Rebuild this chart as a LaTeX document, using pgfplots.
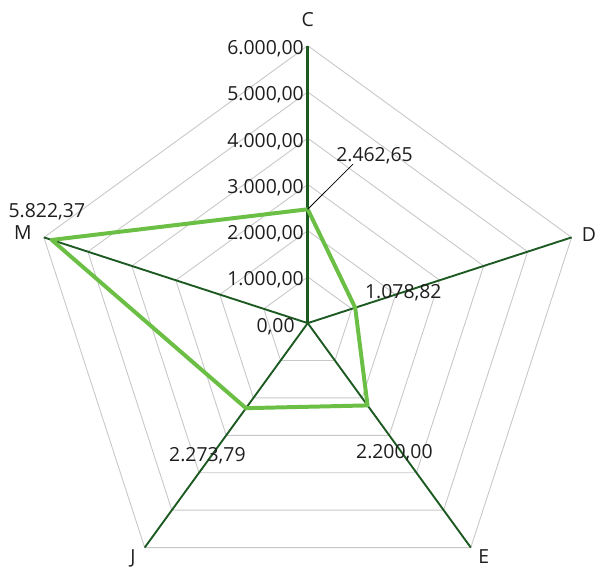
\documentclass[border=0pt]{standalone}
\usepackage{pgfplots}
\pgfplotsset{compat=1.18}
\usepackage{fontspec}
\setmainfont{Open Sans}
\definecolor{spoke}{HTML}{1D5A22}
\definecolor{series}{HTML}{6CBF45}
\definecolor{ring}{HTML}{C8C8C8}
\definecolor{txt}{HTML}{1E1E1E}
\begin{document}
\begin{tikzpicture}
\begin{axis}[
  scale only axis, width=596pt, height=566pt,
  xmin=-6656, xmax=6161, ymin=-5183, ymax=6989,
  hide axis, clip=false,
]
% polygon grid, one ring per 1000
\pgfplotsinvokeforeach{1000,2000,3000,4000,5000,6000}{
  \addplot[ring, line width=0.9pt, data cs=polar] coordinates
    {(90,#1) (18,#1) (306,#1) (234,#1) (162,#1) (90,#1)};
}
% spokes
\addplot[spoke, line width=1.9pt, data cs=polar] coordinates {(18,0) (18,6000)};
\addplot[spoke, line width=1.9pt, data cs=polar] coordinates {(306,0) (306,6000)};
\addplot[spoke, line width=1.9pt, data cs=polar] coordinates {(234,0) (234,6000)};
\addplot[spoke, line width=1.9pt, data cs=polar] coordinates {(162,0) (162,6000)};
\addplot[spoke, line width=2.6pt, data cs=polar] coordinates {(90,0) (90,6000)};
% series: C, D, E, J, M
\addplot[series, line width=4pt, line join=round, data cs=polar] coordinates
  {(90,2462.65) (18,1078.82) (306,2200.00) (234,2273.79) (162,5822.37) (90,2462.65)};
% leader line of the C label
\addplot[black, line width=0.8pt, data cs=polar] coordinates {(90,2462.65) (74.1,3577)};
\end{axis}
\pgfresetboundingbox
\path (current axis.south west) rectangle (current axis.north east);
\begin{scope}[shift={(current axis.north west)}, x=1pt, y=-1pt,
  every node/.style={inner sep=0pt, text=txt, font=\fontsize{19.5}{23}\selectfont}]
  % radial scale
  \node[anchor=base east] at (305.7,55) {6.000,00};
  \node[anchor=base east] at (305.7,101.5) {5.000,00};
  \node[anchor=base east] at (305.7,148) {4.000,00};
  \node[anchor=base east] at (305.7,194.5) {3.000,00};
  \node[anchor=base east] at (305.7,241) {2.000,00};
  \node[anchor=base east] at (305.7,287.5) {1.000,00};
  \node[anchor=base east] at (296.5,334.5) {0,00};
  % category names
  \node[anchor=base] at (309.5,26.7) {C};
  \node[anchor=base west] at (585,242.7) {D};
  \node[anchor=base west] at (481,566.5) {E};
  \node[anchor=base west] at (131,567) {J};
  \node[anchor=base west] at (14,241) {M};
  % values
  \node[anchor=base west] at (338,162.3) {2.462,65};
  \node[anchor=base west] at (367,300) {1.078,82};
  \node[anchor=base west] at (358,461) {2.200,00};
  \node[anchor=base west] at (170,464) {2.273,79};
  \node[anchor=base west] at (8.5,218.3) {5.822,37};
\end{scope}
\end{tikzpicture}
\end{document}
